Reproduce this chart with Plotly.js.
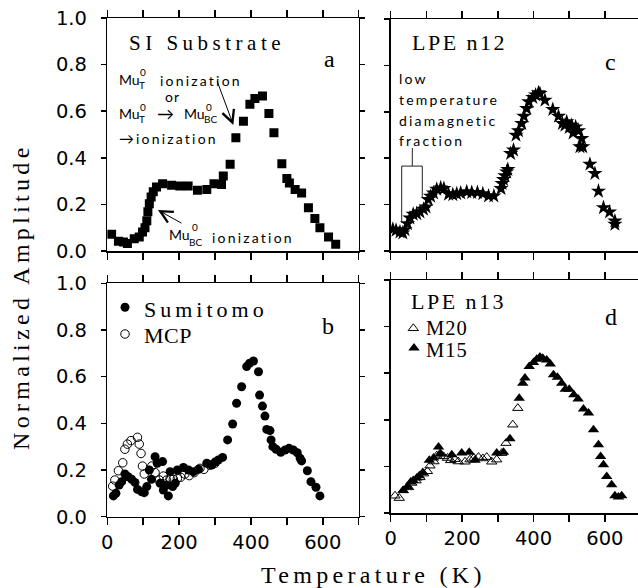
<!DOCTYPE html>
<html><head><meta charset="utf-8">
<script src="https://cdn.plot.ly/plotly-3.0.1.min.js"></script>
<style>
html,body{margin:0;padding:0;background:#fff;}
</style>
<style id="lsrules"></style>
</head><body><div id="chart" style="width:638px;height:588px;"></div>
<script>
// Panel a: SI substrate
const tempA = [12,31,45,56,75,89,98,105,110,113,117,122,128,137,154,179,202,225,251,277,297,318,323,342,358,379,397,411,432,450,464,486,500,507,523,541,560,578,592,616,636];
const ampA  = [0.072,0.042,0.039,0.032,0.053,0.060,0.082,0.100,0.130,0.168,0.203,0.232,0.254,0.275,0.289,0.282,0.279,0.279,0.261,0.264,0.289,0.285,0.322,0.372,0.486,0.557,0.630,0.655,0.665,0.590,0.507,0.375,0.311,0.292,0.264,0.249,0.186,0.139,0.100,0.060,0.029];
// Panel b: Sumitomo and MCP
const tempSumitomo = [17,24,33,40,49,58,68,77,84,96,103,110,117,123,133,139,147,154,156,165,170,175,182,189,195,212,226,240,254,277,291,300,309,321,335,349,360,374,388,396,407,421,424,432,439,444,453,456,461,470,483,495,506,518,529,537,541,557,567,581,592];
const ampSumitomo  = [0.089,0.100,0.136,0.150,0.183,0.171,0.160,0.147,0.117,0.107,0.103,0.129,0.200,0.160,0.257,0.229,0.143,0.236,0.114,0.136,0.089,0.193,0.129,0.143,0.200,0.211,0.200,0.193,0.203,0.229,0.221,0.234,0.243,0.254,0.329,0.397,0.486,0.557,0.643,0.657,0.667,0.621,0.521,0.474,0.431,0.374,0.369,0.329,0.300,0.289,0.276,0.286,0.293,0.286,0.274,0.250,0.239,0.197,0.150,0.126,0.089];
const tempMCP = [15,21,31,43,49,56,66,84,89,94,98,103,124,133,145,156,165,175,184,195,204,216,228,242,258,269,286,300];
const ampMCP  = [0.131,0.157,0.197,0.231,0.289,0.311,0.326,0.340,0.311,0.271,0.217,0.183,0.217,0.189,0.157,0.174,0.157,0.164,0.160,0.164,0.169,0.183,0.176,0.189,0.207,0.203,0.221,0.229];
// Panel c: LPE n12
const tempC = [6,15,26,34,40,47,54,63,73,82,92,99,105,112,120,129,140,149,162,174,185,196,213,227,243,258,274,289,309,312,316,320,325,328,336,344,351,358,367,373,381,387,398,406,414,418,432,454,470,481,488,493,500,507,511,518,526,535,530,538,558,572,582,596,613,628,628];
const ampC  = [0.094,0.089,0.082,0.078,0.092,0.118,0.142,0.158,0.161,0.168,0.180,0.190,0.222,0.236,0.250,0.266,0.272,0.269,0.245,0.243,0.247,0.250,0.255,0.252,0.252,0.247,0.237,0.237,0.269,0.291,0.308,0.324,0.341,0.351,0.420,0.435,0.499,0.518,0.550,0.581,0.614,0.643,0.662,0.672,0.682,0.679,0.650,0.610,0.581,0.550,0.542,0.557,0.532,0.542,0.509,0.535,0.518,0.485,0.449,0.449,0.374,0.334,0.258,0.187,0.168,0.129,0.115];
// Panel d: LPE n13, M20 and M15
const tempM20 = [12,24,35,50,59,71,82,92,103,110,121,129,138,148,159,168,180,189,208,222,233,246,258,269,283,297,311,323,342,356];
const ampM20  = [0.074,0.064,0.097,0.110,0.129,0.139,0.153,0.169,0.179,0.203,0.221,0.246,0.254,0.243,0.236,0.226,0.231,0.221,0.220,0.229,0.236,0.240,0.234,0.240,0.220,0.229,0.257,0.300,0.379,0.450];
const tempM15 = [35,47,56,63,73,80,90,108,120,134,140,171,199,220,236,297,316,334,360,370,376,388,400,409,418,426,437,447,456,467,479,489,500,513,525,540,554,568,582,588,596,605,619,628,638,647];
const ampM15  = [0.097,0.114,0.133,0.140,0.150,0.160,0.174,0.226,0.236,0.283,0.254,0.250,0.257,0.261,0.226,0.257,0.261,0.319,0.493,0.557,0.579,0.629,0.646,0.660,0.669,0.664,0.657,0.639,0.593,0.583,0.557,0.531,0.531,0.507,0.489,0.446,0.429,0.357,0.293,0.243,0.207,0.157,0.121,0.074,0.069,0.074];
// Ticks
const yTickVals = [0,0.2,0.4,0.6,0.8,1.0];
const yTickText = ['0.0','0.2','0.4','0.6','0.8','1.0'];
const xTickVals = [0,100,200,300,400,500,600,700];
const xTickText = ['0','','200','','400','','600',''];
const seriesNames = ['Sumitomo','MCP','M20','M15'];

const W = 638, H = 588;
const PX = p => p / W, PY = p => 1 - p / H;
const SERIF = 'Liberation Serif', SANS = 'Lato', TICK = 'DejaVu Sans';

const traces = [
  {x: tempA, y: ampA, xaxis:'x', yaxis:'y', mode:'markers', showlegend:false,
   marker:{symbol:'square', size:9, color:'#000'}},
  {x: tempMCP, y: ampMCP, xaxis:'x2', yaxis:'y2', mode:'markers', name:' ', legend:'legend2',
   marker:{symbol:'circle-open', size:8.5, color:'#000', line:{width:1, color:'#000'}}},
  {x: tempSumitomo, y: ampSumitomo, xaxis:'x2', yaxis:'y2', mode:'markers', name:' ', legend:'legend',
   marker:{symbol:'circle', size:9, color:'#000'}},
  {x: tempC, y: ampC, xaxis:'x3', yaxis:'y3', mode:'markers', showlegend:false,
   marker:{symbol:'star', size:11.5, color:'#000'}},
  {x: tempM20, y: ampM20, xaxis:'x4', yaxis:'y4', mode:'markers', name:' ', legend:'legend3',
   marker:{symbol:'triangle-up-open', size:9, color:'#000', line:{width:1, color:'#000'}}},
  {x: tempM15, y: ampM15, xaxis:'x4', yaxis:'y4', mode:'markers', name:' ', legend:'legend4',
   marker:{symbol:'triangle-up', size:10, color:'#000'}}
];

const axBase = {showline:true, linecolor:'#000', linewidth:1.5, ticks:'outside', tickcolor:'#000',
  tickwidth:1.5, showgrid:false, zeroline:false, fixedrange:true};
const tickFont = {family:TICK, size:19.5, color:'#000'};
function xAx(domain, range, anchor, labels){
  return Object.assign({}, axBase, {domain, range, anchor, tickmode:'array', tickvals:xTickVals,
    ticktext:xTickText, ticklen:7, mirror:'ticks', showticklabels:labels, tickfont:tickFont});
}
function yAx(domain, anchor, labels, mirror){
  return Object.assign({}, axBase, {domain, range:[0,1], anchor, tickmode:'array', tickvals:yTickVals,
    ticktext:yTickText, ticklen:5, mirror:mirror, showticklabels:labels, tickfont:tickFont,
    ticklabelstandoff:10});
}
const xL = [PX(107.3), PX(358.7)];
const xR = [PX(390.7), 1];
const xRmax = (W - 390.7) / 0.357;

const anns = [];
const lsSet = new Set();
function txt(text, x, y, size, family, xanchor, ls, extra){
  let fam = family;
  if (ls) { const code = 'lsx' + String(ls).replace('.', 'p') + 'x'; fam = family + ', ' + code; lsSet.add(ls); }
  anns.push(Object.assign({text, x:PX(x), y:PY(y), xref:'paper', yref:'paper', showarrow:false,
    xanchor:xanchor||'center', yanchor:'middle', font:{family:fam, size, color:'#000'}}, extra||{}));
}
// serif labels
txt('SI Substrate', 206.5, 42.5, 21, SERIF, 'center', 4.5);
txt('a', 329, 59.5, 24, SERIF);
txt(seriesNames[0], 142, 309, 22, SERIF, 'left', 4);
txt(seriesNames[1], 142, 335.5, 22, SERIF, 'left', 0.5);
txt('b', 327.5, 326, 24, SERIF);
txt('LPE n12', 459.5, 42.5, 22, SERIF, 'center', 2.5);
txt('c', 610, 62, 24, SERIF);
txt('LPE n13', 458.3, 301.7, 22, SERIF, 'center', 2.5);
txt(seriesNames[2], 424, 327.5, 20.5, SERIF, 'left', 1);
txt(seriesNames[3], 424, 350, 20.5, SERIF, 'left', 1);
txt('d', 611, 317, 24, SERIF);
txt('Temperature (K)', 373.5, 575, 24, SERIF, 'center', 4.3);
txt('Normalized Amplitude', 21, 297, 24, SERIF, 'center', 4.3, {textangle:-90});
// sans annotations panel a
const s = 14, ss = 10, wl = 2.2;
txt('Mu', 117, 79.5, s, SANS, 'left');
txt('T', 137, 85, ss, SANS, 'left');
txt('0', 137.5, 72, ss, SANS, 'left');
txt('ionization', 158, 80.5, s, SANS, 'left', wl);
txt('or', 163, 96.5, s, SANS, 'left', 1);
txt('Mu', 117, 113, s, SANS, 'left');
txt('T', 137, 119, ss, SANS, 'left');
txt('0', 137.5, 106.5, ss, SANS, 'left');
txt('→', 155, 113.5, 17, SANS, 'left');
txt('Mu', 182, 113, s, SANS, 'left');
txt('BC', 202, 119, ss, SANS, 'left');
txt('0', 204, 106.5, ss, SANS, 'left');
txt('→', 117, 137.5, 15, SANS, 'left');
txt('ionization', 134, 138, s, SANS, 'left', wl);
txt('Mu', 167, 235, s, SANS, 'left');
txt('BC', 187, 242, ss, SANS, 'left');
txt('0', 190, 227, ss, SANS, 'left');
txt('ionization', 210, 237, s, SANS, 'left', wl);
// panel c text
txt('low', 397, 79, s, SANS, 'left', wl);
txt('temperature', 397, 99, s, SANS, 'left', wl);
txt('diamagnetic', 397, 120, s, SANS, 'left', wl);
txt('fraction', 397, 140, s, SANS, 'left', wl);
// arrows
anns.push({text:'', x:350.9, y:0.541, xref:'x', yref:'y', showarrow:true, ax:-16.6, ay:-45,
  arrowhead:5, arrowsize:2.4, arrowwidth:1, arrowcolor:'#000', standoff:0});
anns.push({text:'', x:141, y:0.176, xref:'x', yref:'y', showarrow:true, ax:25, ay:14,
  arrowhead:5, arrowsize:2.4, arrowwidth:1, arrowcolor:'#000', standoff:0});

// per-text letter spacing rules (matched on the font-family string)
document.getElementById('lsrules').textContent = Array.from(lsSet).map(v =>
  '.annotation-text[style*="lsx' + String(v).replace('.', 'p') + 'x"]{letter-spacing:' + v + 'px;}').join('\n');

const shapes = [
  {type:'path', xref:'x3', yref:'y3', path:'M60.5,0.444 L60.5,0.366 M30.8,0.121 L30.8,0.366 L88.5,0.366 L88.5,0.233',
   line:{color:'#222', width:1}}
];

function leg(mx, my){
  return {x:PX(mx-20), y:PY(my-14.5), xanchor:'left', yanchor:'top', bgcolor:'rgba(0,0,0,0)',
    borderwidth:0, font:{family:TICK, size:10, color:'#000'}};
}

const layout = {
  width:W, height:H, margin:{l:0,r:0,t:0,b:0}, paper_bgcolor:'#fff', plot_bgcolor:'rgba(0,0,0,0)',
  font:{family:TICK, color:'#000'}, showlegend:true,
  xaxis: xAx(xL, [0,700], 'y', false),
  yaxis: yAx([PY(251), PY(18)], 'x', true, 'ticks'),
  xaxis2: xAx(xL, [0,700], 'y2', true),
  yaxis2: yAx([PY(516.7), PY(283.3)], 'x2', true, 'ticks'),
  xaxis3: xAx(xR, [0,xRmax], 'y3', false),
  yaxis3: yAx([PY(251), PY(19)], 'x3', false, false),
  xaxis4: xAx(xR, [0,xRmax], 'y4', true),
  yaxis4: yAx([PY(513), PY(280)], 'x4', false, false),
  legend: leg(125, 307.3),
  legend2: leg(125, 334),
  legend3: leg(413.3, 328.3),
  legend4: leg(414, 348),
  annotations: anns,
  shapes: shapes
};
Plotly.newPlot('chart', traces, layout, {staticPlot:true, displayModeBar:false});
</script></body></html>
